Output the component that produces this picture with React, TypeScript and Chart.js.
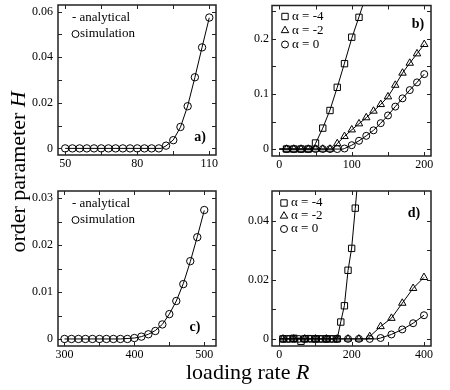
import React, { useEffect, useRef } from 'react';
import { Chart, registerables } from 'chart.js';

Chart.register(...registerables);

const FONT = '"Liberation Serif", "Times New Roman", serif';

// ---------- Panel a ----------
const aR = [50, 53, 56, 59, 62, 65, 68, 71, 74, 77, 80, 83, 86, 89, 92, 95, 98, 101, 104, 107, 110];
const aSim = [0, 0, 0, 0, 0, 0, 0, 0, 0, 0, 0, 0, 0, 0, 0.0012, 0.0036, 0.0094, 0.0185, 0.0312, 0.0443, 0.0574];
const aLineR = [50, 90, 92, 95, 98, 101, 104, 107, 110];
const aLineH = [0, 0, 0.0011, 0.0037, 0.0093, 0.0186, 0.0311, 0.0444, 0.0573];
const aXTicks = [50, 65, 80, 95, 110];
const aXLabels = [50, 80, 110];
const aYTicks = [0, 0.01, 0.02, 0.03, 0.04, 0.05, 0.06];
const aYLabels = [0, 0.02, 0.04, 0.06];

// ---------- Panel b ----------
const bR4 = [10, 20, 30, 40, 50, 60, 70, 80, 90, 100, 110];
const bSim4 = [0, 0, 0, 0, 0.011, 0.038, 0.07, 0.112, 0.155, 0.203, 0.239];
const bLineR4 = [0, 46, 50, 60, 70, 80, 90, 100, 110, 120];
const bLineH4 = [0, 0, 0.01, 0.038, 0.071, 0.112, 0.156, 0.201, 0.24, 0.28];
const bR2 = [10, 20, 30, 40, 50, 60, 70, 80, 90, 100, 110, 120, 130, 140, 150, 160, 170, 180, 190, 200];
const bSim2 = [0, 0, 0, 0, 0, 0, 0, 0.01, 0.023, 0.035, 0.046, 0.057, 0.069, 0.081, 0.095, 0.116, 0.138, 0.156, 0.173, 0.19];
const bLineR2 = [0, 73, 80, 90, 100, 110, 120, 130, 140, 150, 160, 170, 180, 190, 200];
const bLineH2 = [0, 0, 0.01, 0.023, 0.035, 0.046, 0.057, 0.069, 0.081, 0.095, 0.116, 0.138, 0.156, 0.173, 0.19];
const bR0 = [10, 20, 30, 40, 50, 60, 70, 80, 90, 100, 110, 120, 130, 140, 150, 160, 170, 180, 190, 200];
const bSim0 = [0, 0, 0, 0, 0, 0, 0, 0, 0.001, 0.007, 0.015, 0.024, 0.034, 0.047, 0.061, 0.077, 0.092, 0.107, 0.121, 0.136];
const bLineR0 = [0, 88, 90, 100, 110, 120, 130, 140, 150, 160, 170, 180, 190, 200];
const bLineH0 = [0, 0, 0.001, 0.007, 0.015, 0.024, 0.034, 0.047, 0.061, 0.077, 0.092, 0.107, 0.121, 0.136];
const bXTicks = [0, 50, 100, 150, 200];
const bXLabels = [0, 100, 200];
const bYTicks = [0, 0.05, 0.1, 0.15, 0.2, 0.25];
const bYLabels = [0, 0.1, 0.2];

// ---------- Panel c ----------
const cR = [300, 310, 320, 330, 340, 350, 360, 370, 380, 390, 400, 410, 420, 430, 440, 450, 460, 470, 480, 490, 500];
const cSim = [0, 0, 0, 0, 0, 0, 0, 0, 0, 0, 0.0002, 0.0005, 0.001, 0.0017, 0.0031, 0.0053, 0.0081, 0.0117, 0.0166, 0.0217, 0.0275];
const cLineR = [300, 380, 400, 410, 420, 430, 440, 450, 460, 470, 480, 490, 500];
const cLineH = [0, 0, 0.0002, 0.0005, 0.001, 0.0018, 0.0031, 0.0053, 0.0081, 0.0118, 0.0165, 0.0218, 0.0274];
const cXTicks = [300, 350, 400, 450, 500];
const cXLabels = [300, 400, 500];
const cYTicks = [0, 0.005, 0.01, 0.015, 0.02, 0.025, 0.03];
const cYLabels = [0, 0.01, 0.02, 0.03];

// ---------- Panel d ----------
const dR4 = [10, 20, 30, 40, 50, 60, 70, 80, 90, 100, 110, 120, 130, 140, 150, 160, 170, 180, 190, 200, 210];
const dSim4 = [0, 0, 0, 0.0002, 0, -0.0008, 0, 0.0001, 0, 0, 0, 0, 0, 0, 0, 0, 0.0057, 0.0112, 0.0232, 0.0306, 0.0442];
const dLineR4 = [0, 160, 170, 180, 190, 200, 210, 220];
const dLineH4 = [0, 0, 0.0058, 0.0113, 0.0231, 0.0307, 0.0441, 0.058];
const dR2 = [10, 40, 70, 100, 130, 160, 190, 220, 250, 280, 310, 340, 370, 400];
const dSim2 = [0, 0, 0, 0, 0, 0, 0, 0, 0.0008, 0.0042, 0.007, 0.0121, 0.0171, 0.0208];
const dLineR2 = [0, 245, 250, 280, 310, 340, 370, 400];
const dLineH2 = [0, 0, 0.0008, 0.0042, 0.007, 0.0121, 0.0171, 0.0208];
const dR0 = [10, 40, 70, 100, 130, 160, 190, 220, 250, 280, 310, 340, 370, 400];
const dSim0 = [0, 0, 0, 0, 0, 0, 0, 0, 0, 0.0003, 0.0015, 0.0032, 0.0053, 0.008];
const dLineR0 = [0, 270, 280, 310, 340, 370, 400];
const dLineH0 = [0, 0, 0.0003, 0.0015, 0.0032, 0.0053, 0.008];
const dXTicks = [0, 100, 200, 300, 400];
const dXLabels = [0, 200, 400];
const dYTicks = [0, 0.01, 0.02, 0.03, 0.04];
const dYLabels = [0, 0.02, 0.04];

// ---------- Text ----------
const legendAnalytical = '- analytical';
const legendSimulation = 'simulation';
const legendAlpha = ['α = -4', 'α = -2', 'α = 0'];
const panelNames = ['a)', 'b)', 'c)', 'd)'];
const xTitleText = 'loading rate ';
const xTitleVar = 'R';
const yTitleText = 'order parameter ';
const yTitleVar = 'H';

type Marker = 'none' | 'circle' | 'rect' | 'triangle';
interface LegendItem { marker: Marker; text: string; mx: number; my: number; tx: number; }

function drawMarker(ctx: CanvasRenderingContext2D, m: Marker, x: number, y: number) {
  ctx.beginPath();
  if (m === 'circle') {
    ctx.arc(x, y, 3.5, 0, Math.PI * 2);
  } else if (m === 'rect') {
    ctx.rect(x - 3.2, y - 3.2, 6.4, 6.4);
  } else if (m === 'triangle') {
    const r = 4.3;
    let rad = 0;
    ctx.moveTo(x + Math.sin(rad) * r, y - Math.cos(rad) * r);
    rad += (2 * Math.PI) / 3;
    ctx.lineTo(x + Math.sin(rad) * r, y - Math.cos(rad) * r);
    rad += (2 * Math.PI) / 3;
    ctx.lineTo(x + Math.sin(rad) * r, y - Math.cos(rad) * r);
    ctx.closePath();
  } else {
    return;
  }
  ctx.stroke();
}

const decoPlugin = {
  id: 'deco',
  afterDraw(chart: any, _args: any, opts: any) {
    const ctx: CanvasRenderingContext2D = chart.ctx;
    const { left, right, top, bottom } = chart.chartArea;
    const xs = chart.scales.x;
    const ys = chart.scales.y;
    ctx.save();
    ctx.strokeStyle = '#222';
    ctx.lineWidth = 1;
    ctx.beginPath();
    for (const t of xs.ticks) {
      const p = Math.round(xs.getPixelForValue(t.value)) + 0.5;
      ctx.moveTo(p, bottom);
      ctx.lineTo(p, bottom - 4);
      ctx.moveTo(p, top);
      ctx.lineTo(p, top + 4);
    }
    for (const t of ys.ticks) {
      const p = Math.round(ys.getPixelForValue(t.value)) + 0.5;
      ctx.moveTo(left, p);
      ctx.lineTo(left + 4, p);
      ctx.moveTo(right, p);
      ctx.lineTo(right - 4, p);
    }
    ctx.stroke();
    ctx.lineWidth = 1.5;
    ctx.strokeRect(left, top, right - left, bottom - top);

    // legend
    ctx.fillStyle = '#000';
    ctx.strokeStyle = '#000';
    ctx.lineWidth = 1;
    ctx.font = `13px ${FONT}`;
    ctx.textBaseline = 'middle';
    ctx.textAlign = 'left';
    for (const it of opts.legend as LegendItem[]) {
      drawMarker(ctx, it.marker, left + it.mx, top + it.my);
      ctx.fillText(it.text, left + it.tx, top + it.my);
    }
    // panel label
    ctx.font = `bold 14px ${FONT}`;
    ctx.textAlign = 'center';
    const ly = opts.labelFromTop ? top + opts.labelDy : bottom + opts.labelDy;
    ctx.fillText(opts.label, right + opts.labelDx, ly);
    ctx.restore();
  },
};

function pts(xs: number[], ys: number[]) {
  return xs.map((x, i) => ({ x, y: ys[i] }));
}

function simSet(xs: number[], ys: number[], style: string, r: number) {
  return {
    data: pts(xs, ys),
    showLine: false,
    pointStyle: style,
    pointRadius: r,
    pointBorderWidth: 1,
    pointBorderColor: '#000',
    pointBackgroundColor: 'rgba(0,0,0,0)',
    borderColor: '#000',
    backgroundColor: 'rgba(0,0,0,0)',
  };
}

function lineSet(xs: number[], ys: number[]) {
  return {
    data: pts(xs, ys),
    showLine: true,
    pointRadius: 0,
    borderWidth: 1,
    borderColor: '#000',
    backgroundColor: 'rgba(0,0,0,0)',
    tension: 0,
  };
}

interface PanelProps {
  left: number; top: number; width: number; height: number;
  pad: { left: number; top: number; right: number; bottom: number };
  yWidth: number; xHeight: number; yPad: number;
  xMin: number; xMax: number; yMin: number; yMax: number;
  xTicks: number[]; xLabels: number[]; yTicks: number[]; yLabels: number[];
  datasets: any[];
  legend: LegendItem[];
  label: string; labelDx: number; labelDy: number; labelFromTop: boolean;
}

function Panel(p: PanelProps) {
  const ref = useRef<HTMLCanvasElement | null>(null);
  useEffect(() => {
    if (!ref.current) return;
    const tickFont = { family: FONT, size: 12 };
    const chart = new Chart(ref.current, {
      type: 'scatter',
      data: { datasets: p.datasets },
      plugins: [decoPlugin as any],
      options: {
        responsive: false,
        animation: false,
        events: [],
        layout: { padding: p.pad },
        plugins: {
          legend: { display: false },
          tooltip: { enabled: false },
          deco: { legend: p.legend, label: p.label, labelDx: p.labelDx, labelDy: p.labelDy, labelFromTop: p.labelFromTop },
        } as any,
        scales: {
          x: {
            type: 'linear',
            min: p.xMin,
            max: p.xMax,
            grid: { display: false, drawTicks: false },
            border: { display: false },
            afterBuildTicks: (s: any) => { s.ticks = p.xTicks.map((v) => ({ value: v })); },
            afterFit: (s: any) => { s.height = p.xHeight; s.paddingLeft = 0; s.paddingRight = 0; },
            ticks: {
              autoSkip: false,
              maxRotation: 0,
              padding: 2,
              color: '#000',
              font: tickFont,
              callback: (v: any) => (p.xLabels.includes(Number(v)) ? String(v) : ''),
            },
          },
          y: {
            type: 'linear',
            min: p.yMin,
            max: p.yMax,
            grid: { display: false, drawTicks: false },
            border: { display: false },
            afterBuildTicks: (s: any) => { s.ticks = p.yTicks.map((v) => ({ value: v })); },
            afterFit: (s: any) => { s.width = p.yWidth; s.paddingTop = 0; s.paddingBottom = 0; },
            ticks: {
              autoSkip: false,
              padding: p.yPad,
              color: '#000',
              font: tickFont,
              callback: (v: any) => (p.yLabels.includes(Number(v)) ? String(v) : ''),
            },
          },
        },
      } as any,
    });
    return () => chart.destroy();
  }, []);
  return (
    <canvas
      ref={ref}
      width={p.width}
      height={p.height}
      style={{ position: 'absolute', left: p.left, top: p.top, width: p.width, height: p.height }}
    />
  );
}

const legendAC: LegendItem[] = [
  { marker: 'none', text: legendAnalytical, mx: 0, my: 13, tx: 14 },
  { marker: 'circle', text: legendSimulation, mx: 17.5, my: 29, tx: 22 },
];
const legendB: LegendItem[] = [
  { marker: 'rect', text: legendAlpha[0], mx: 13, my: 11, tx: 20 },
  { marker: 'triangle', text: legendAlpha[1], mx: 13, my: 25, tx: 20 },
  { marker: 'circle', text: legendAlpha[2], mx: 13, my: 39, tx: 20 },
];
const legendD: LegendItem[] = [
  { marker: 'rect', text: legendAlpha[0], mx: 12, my: 12, tx: 19 },
  { marker: 'triangle', text: legendAlpha[1], mx: 12, my: 25, tx: 19 },
  { marker: 'circle', text: legendAlpha[2], mx: 12, my: 38, tx: 19 },
];

export default function App() {
  return (
    <div style={{ position: 'absolute', left: 0, top: 0, width: 450, height: 390, background: '#fff', overflow: 'hidden' }}>
      <Panel
        left={0} top={0} width={225} height={185}
        pad={{ left: 0, top: 4, right: 9, bottom: 0 }}
        yWidth={58} xHeight={30} yPad={5}
        xMin={47} xMax={112.8} yMin={-0.0029} yMax={0.0629}
        xTicks={aXTicks} xLabels={aXLabels} yTicks={aYTicks} yLabels={aYLabels}
        datasets={[lineSet(aLineR, aLineH), simSet(aR, aSim, 'circle', 3.7)]}
        legend={legendAC}
        label={panelNames[0]} labelDx={-16} labelDy={-18} labelFromTop={false}
      />
      <Panel
        left={225} top={0} width={225} height={185}
        pad={{ left: 0, top: 4, right: 19, bottom: 0 }}
        yWidth={47} xHeight={29} yPad={3}
        xMin={-10} xMax={209.3} yMin={-0.0126} yMax={0.2605}
        xTicks={bXTicks} xLabels={bXLabels} yTicks={bYTicks} yLabels={bYLabels}
        datasets={[
          lineSet(bLineR4, bLineH4), lineSet(bLineR2, bLineH2), lineSet(bLineR0, bLineH0),
          simSet(bR0, bSim0, 'circle', 3.5), simSet(bR2, bSim2, 'triangle', 4.3), simSet(bR4, bSim4, 'rect', 4.5),
        ]}
        legend={legendB}
        label={panelNames[1]} labelDx={-13} labelDy={19} labelFromTop={true}
      />
      <Panel
        left={0} top={185} width={225} height={205}
        pad={{ left: 0, top: 6, right: 9, bottom: 0 }}
        yWidth={58} xHeight={44} yPad={5}
        xMin={290.7} xMax={516.8} yMin={-0.0015} yMax={0.03156}
        xTicks={cXTicks} xLabels={cXLabels} yTicks={cYTicks} yLabels={cYLabels}
        datasets={[lineSet(cLineR, cLineH), simSet(cR, cSim, 'circle', 3.7)]}
        legend={legendAC}
        label={panelNames[2]} labelDx={-21} labelDy={-19} labelFromTop={false}
      />
      <Panel
        left={225} top={185} width={225} height={205}
        pad={{ left: 0, top: 6, right: 19, bottom: 0 }}
        yWidth={47} xHeight={44} yPad={3}
        xMin={-20.2} xMax={419.4} yMin={-0.0024} yMax={0.05}
        xTicks={dXTicks} xLabels={dXLabels} yTicks={dYTicks} yLabels={dYLabels}
        datasets={[
          lineSet(dLineR4, dLineH4), lineSet(dLineR2, dLineH2), lineSet(dLineR0, dLineH0),
          simSet(dR0, dSim0, 'circle', 3.5), simSet(dR2, dSim2, 'triangle', 4.3), simSet(dR4, dSim4, 'rect', 4.5),
        ]}
        legend={legendD}
        label={panelNames[3]} labelDx={-17} labelDy={22} labelFromTop={true}
      />
      <div
        style={{
          position: 'absolute', left: 186, top: 361, fontSize: 22, lineHeight: '22px',
          fontFamily: FONT, whiteSpace: 'nowrap', color: '#000',
        }}
      >
        {xTitleText}<i>{xTitleVar}</i>
      </div>
      <div
        style={{
          position: 'absolute', left: 17.6 - 110, top: 172 - 11, width: 220, height: 22, lineHeight: '22px',
          textAlign: 'center', transform: 'rotate(-90deg)', fontSize: 22, fontFamily: FONT,
          whiteSpace: 'nowrap', color: '#000',
        }}
      >
        {yTitleText}<i>{yTitleVar}</i>
      </div>
    </div>
  );
}
